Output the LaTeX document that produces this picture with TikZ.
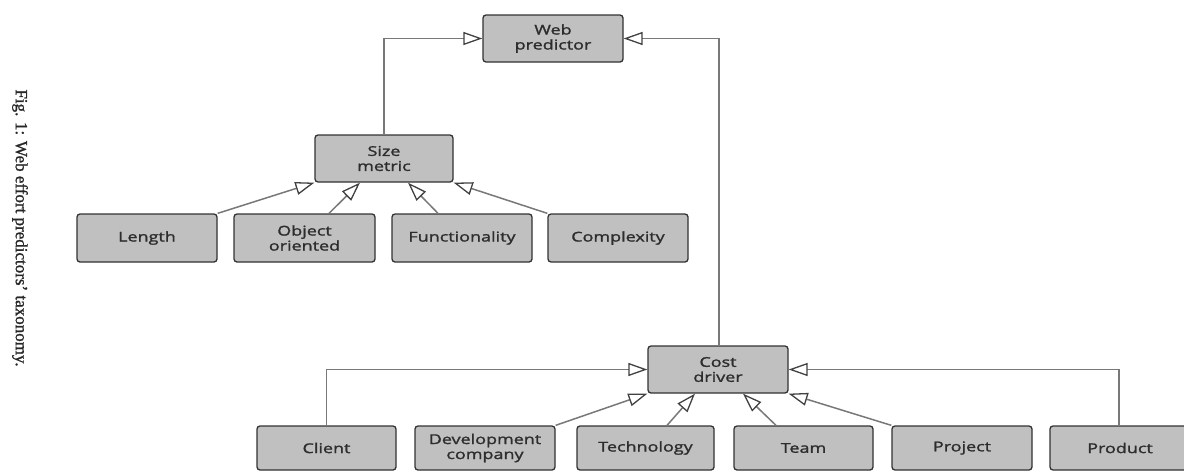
\documentclass[tikz,border=0pt]{standalone}
\usepackage{fontspec}
\newfontfamily\boxfont[FakeStretch=1.33, FakeBold=1.6]{Open Sans}
\newfontfamily\capfont[FakeBold=1.2]{Liberation Serif}
\usetikzlibrary{arrows.meta}
\definecolor{boxfill}{RGB}{192,192,192}
\definecolor{boxline}{RGB}{50,50,50}
\definecolor{linkcol}{RGB}{120,120,120}
\definecolor{tipcol}{RGB}{65,65,65}
\definecolor{txt}{RGB}{45,45,45}
\tikzset{
  box/.style={draw=boxline, line width=1.3pt, fill=boxfill, rounded corners=3pt,
    minimum width=140pt, minimum height=47pt, inner sep=0pt, align=center,
    font=\boxfont\fontsize{13.5}{15}\selectfont, text=txt},
  link/.style={draw=linkcol, line width=1.5pt,
    -{Triangle[length=19pt, width=13pt, fill=white, color=tipcol, line width=1.3pt]}},
}
\begin{document}
\begin{tikzpicture}[x=1pt, y=-1pt]
\useasboundingbox (0,0) rectangle (1184,472);
% caption
\node[rotate=-90, font=\capfont\fontsize{17}{20}\selectfont, text=black!85] (cap) at (20,228) {Fig. 1: Web effort predictors’ taxonomy.};
% top
\node[box] (web) at (553,38.5) {Web\\predictor};
\node[box, minimum width=138pt] (size) at (384,158.5) {Size\\metric};
% size metric children
\node[box, minimum height=48pt] (len) at (147,238) {Length};
\node[box, minimum height=48pt, minimum width=141pt] (oo) at (304.5,238) {Object\\oriented};
\node[box, minimum height=48pt] (func) at (462,238) {Functionality};
\node[box, minimum height=48pt] (cplx) at (618,238) {Complexity};
% cost driver
\node[box] (cost) at (718,369.5) {Cost\\driver};
\node[box, minimum height=44pt, minimum width=139pt] (client) at (326.5,448) {Client};
\node[box, minimum height=44pt] (dev) at (485,448) {Development\\company};
\node[box, minimum height=44pt, minimum width=137pt] (tech) at (645.5,448) {Technology};
\node[box, minimum height=44pt, minimum width=139pt] (team) at (803.5,448) {Team};
\node[box, minimum height=44pt] (proj) at (962,448) {Project};
\node[box, minimum height=44pt] (prod) at (1120,448) {Product};
% connectors
\draw[link] (size.north) |- (web.west);
\draw[link] ([xshift=1pt]cost.north) |- (web.east);
\draw[link] (len.north east) -- (size.south west);
\draw[link] ([xshift=24.5pt]oo.north) -- ([xshift=-24pt]size.south);
\draw[link] ([xshift=-24pt]func.north) -- ([xshift=24pt]size.south);
\draw[link] (cplx.north west) -- (size.south east);
\draw[link] (client.north) |- (cost.west);
\draw[link] (dev.north east) -- (cost.south west);
\draw[link] ([xshift=21.5pt]tech.north) -- ([xshift=-23pt]cost.south);
\draw[link] ([xshift=-27.5pt]team.north) -- ([xshift=25pt]cost.south);
\draw[link] (proj.north west) -- (cost.south east);
\draw[link] ([xshift=-1pt]prod.north) |- (cost.east);
\end{tikzpicture}
\end{document}
